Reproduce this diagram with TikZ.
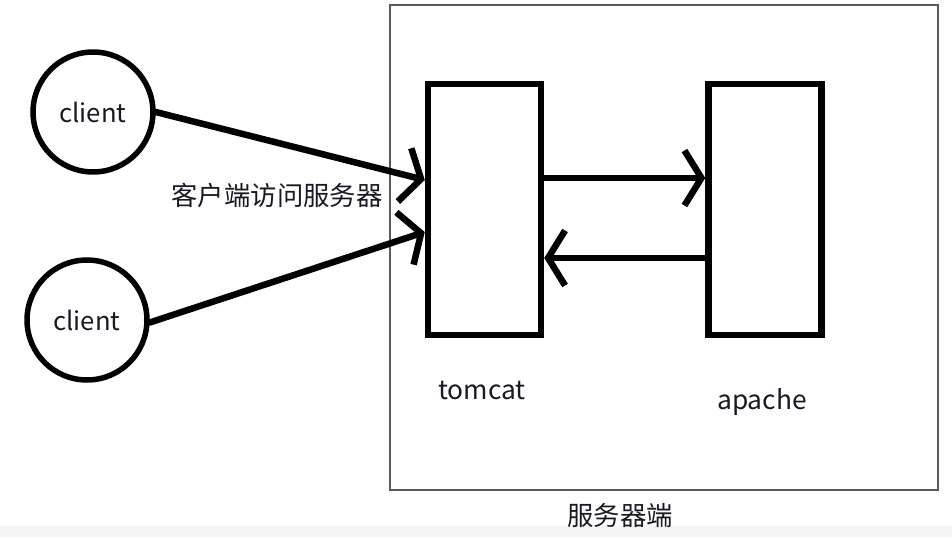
\documentclass[tikz,border=0pt]{standalone}
\usepackage{fontspec}
\setmainfont{Noto Sans CJK SC}
\usepackage{tikz}
\usetikzlibrary{arrows.meta, positioning, calc}
\definecolor{myink}{RGB}{0,0,0}
\definecolor{myframe}{RGB}{90,90,90}
\definecolor{mytext}{RGB}{25,25,35}
\definecolor{myband}{RGB}{245,245,245}
\tikzset{
  clientnode/.style={circle, draw=myink, line width=0.11cm, minimum size=2.4cm,
    inner sep=0pt, font=\fontsize{14.6pt}{17pt}\selectfont, text=mytext},
  serverbox/.style={rectangle, draw=myink, line width=0.13cm,
    minimum width=2.26cm, minimum height=5.02cm, inner sep=0pt},
  framebox/.style={rectangle, draw=myframe, line width=0.03cm,
    minimum width=10.96cm, minimum height=9.7cm, inner sep=0pt},
  label/.style={font=\fontsize{15pt}{17pt}\selectfont, text=mytext, inner sep=0pt},
  arrow/.style={-{Straight Barb[length=0.34cm, width=1.1cm]}, line width=0.13cm,
    color=myink, line cap=round}
}
\begin{document}
\begin{tikzpicture}[x=0.02cm, y=-0.02cm]
  \useasboundingbox (0,0) rectangle (952,537);
  \fill[myband] (0,526) rectangle (952,537);

  \node[framebox] (server) at (664,247.5) {};
  \node[label] (serverlbl) at (620,515) {服务器端};

  \node[clientnode] (c1) at (93,112) {client};
  \node[clientnode] (c2) at (87,320) {client};

  \node[serverbox] (tomcat) at (484.5,209.5) {};
  \node[serverbox] (apache) at (765,209.5) {};
  \node[label] (tomcatlbl) at (482,390) {tomcat};
  \node[label] (apachelbl) at (762,402) {apache};

  \node[label] (req) at (277,195) {客户端访问服务器};

  \draw[arrow] (c1.east) -- ([yshift=0.59cm]tomcat.west);
  \draw[arrow] ([yshift=-0.05cm]c2.east) -- ([yshift=-0.45cm]tomcat.west);
  \draw[arrow] ([yshift=0.63cm]tomcat.east) -- ([yshift=0.63cm]apache.west);
  \draw[arrow] ([yshift=-0.97cm]apache.west) -- ([yshift=-0.97cm]tomcat.east);
\end{tikzpicture}
\end{document}
